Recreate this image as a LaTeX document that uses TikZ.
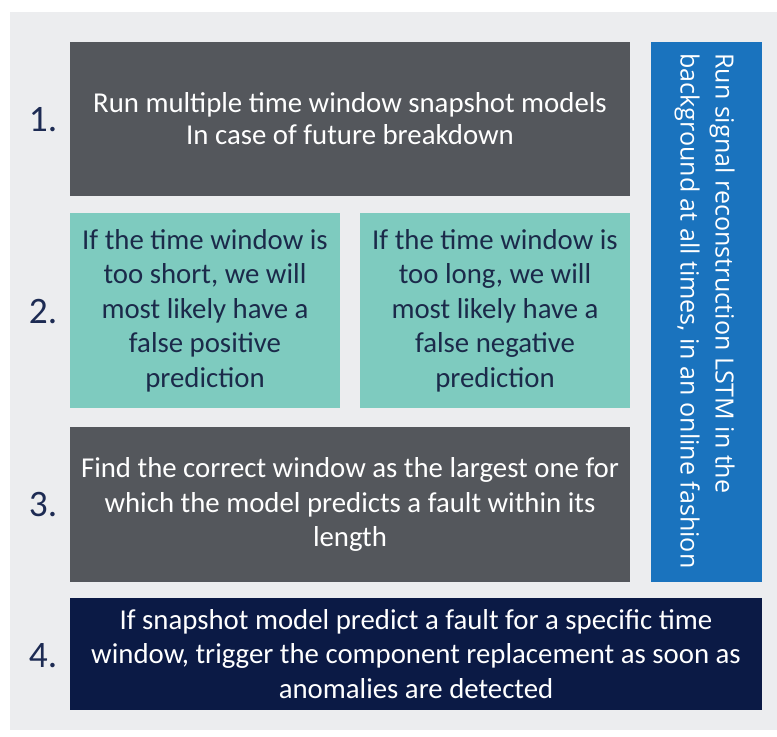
\documentclass[tikz,border=0pt]{standalone}
\usepackage{fontspec}
\setmainfont{Carlito}
\newfontfamily\vertfont{Open Sans}
\definecolor{panelbg}{HTML}{ECEDEF}
\definecolor{slate}{HTML}{54575C}
\definecolor{tealbox}{HTML}{7ECBBF}
\definecolor{bluebox}{HTML}{1A73BE}
\definecolor{navybox}{HTML}{0B1A45}
\definecolor{numcol}{HTML}{1D2B53}
\definecolor{tealtext}{HTML}{1B2A4A}
\tikzset{
  card/.style={anchor=north west, inner sep=0pt, outer sep=0pt},
  cardtext/.style={align=center, font=\fontsize{21.6}{25.9}\selectfont},
  stepnum/.style={text=numcol, font=\fontsize{28}{30}\selectfont},
}
\begin{document}
\begin{tikzpicture}[x=0.75pt,y=-0.75pt]
\useasboundingbox (0,0) rectangle (777,736);
\fill[white] (0,0) rectangle (777,736);
\fill[panelbg] (10,12) rectangle (777,730);

% step boxes
\node[card, fill=slate, minimum width=420pt, minimum height=115.5pt] (b1) at (70,42) {};
\node[card, fill=tealbox, minimum width=202.5pt, minimum height=146.25pt] (b2a) at (70,213) {};
\node[card, fill=tealbox, minimum width=202.5pt, minimum height=146.25pt] (b2b) at (360,213) {};
\node[card, fill=slate, minimum width=420pt, minimum height=116.25pt] (b3) at (70,427) {};
\node[card, fill=bluebox, minimum width=83.25pt, minimum height=405pt] (bl) at (651,42) {};
\node[card, fill=navybox, minimum width=519pt, minimum height=84pt] (b4) at (70,598) {};

% box texts
\node[cardtext, text=white, font=\fontsize{21.6}{24}\selectfont] (t1) at (b1.center) {Run multiple time window snapshot models\\In case of future breakdown};
\node[cardtext, text=tealtext] (t2a) at (b2a.center) {If the time window is\\too short, we will\\most likely have a\\false positive\\prediction};
\node[cardtext, text=tealtext] (t2b) at (b2b.center) {If the time window is\\too long, we will\\most likely have a\\false negative\\prediction};
\node[cardtext, text=white] (t3) at (b3.center) {Find the correct window as the largest one for\\which the model predicts a fault within its\\length};
\node[cardtext, text=white] (t4) at (b4.center) {If snapshot model predict a fault for a specific time\\window, trigger the component replacement as soon as\\anomalies are detected};
\node[rotate=-90, anchor=west, align=left, text=white, inner xsep=0pt, font=\vertfont\fontsize{18.8}{26.25}\selectfont] (tv) at (704.5,53) {Run signal reconstruction LSTM in the\\background at all times, in an online fashion};

% step numbers
\node[stepnum] (n1) at (43,120) {1.};
\node[stepnum] (n2) at (43,312) {2.};
\node[stepnum] (n3) at (43,505) {3.};
\node[stepnum] (n4) at (43,656) {4.};
\end{tikzpicture}
\end{document}
